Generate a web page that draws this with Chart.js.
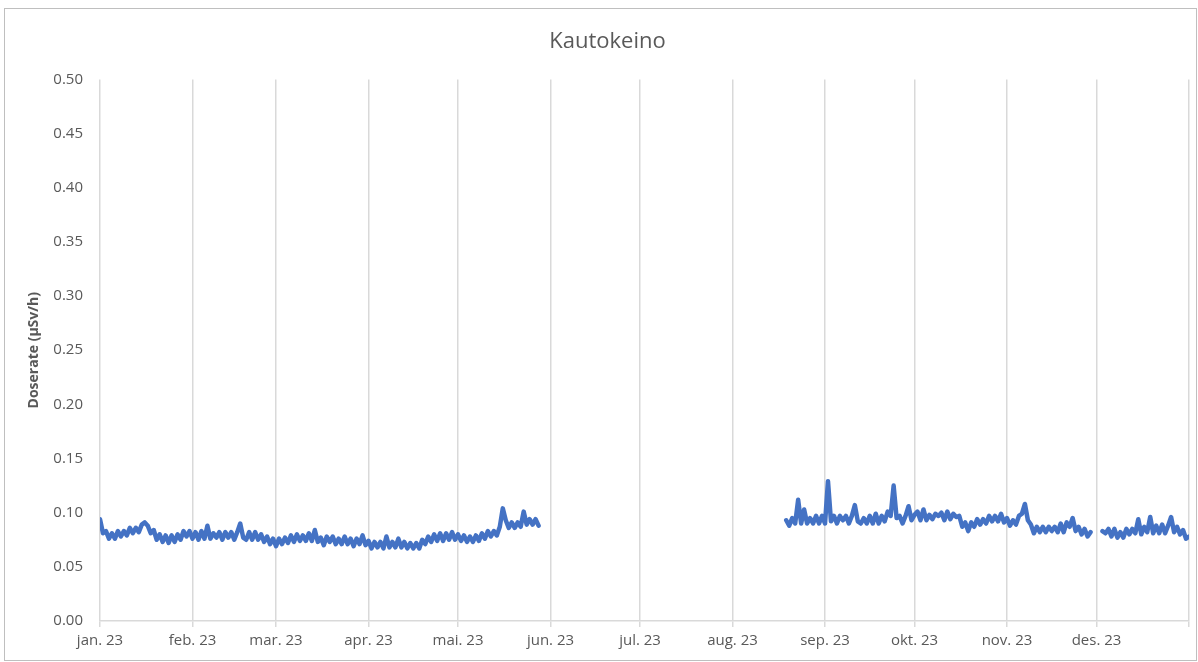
<!DOCTYPE html>
<html>
<head>
<meta charset="utf-8">
<script src="https://cdn.jsdelivr.net/npm/chart.js@4/dist/chart.umd.min.js"></script>
<style>
  html, body { margin: 0; padding: 0; background: #fff; }
  #wrap { position: relative; width: 1198px; height: 662px; }
  #frame { position: absolute; left: 4px; top: 8px; width: 1193px; height: 653px; border: 1px solid #bfbfbf; box-sizing: border-box; pointer-events: none; }
</style>
</head>
<body>
<div id="wrap">
  <canvas id="myChart"></canvas>
  <div id="frame"></div>
</div>
<script>
// month ticks (day of year 2023) and their labels
const monthStartDays = [0, 31, 59, 90, 120, 151, 181, 212, 243, 273, 304, 334, 365];
const monthLabels = ['jan. 23', 'feb. 23', 'mar. 23', 'apr. 23', 'mai. 23', 'jun. 23', 'jul. 23', 'aug. 23', 'sep. 23', 'okt. 23', 'nov. 23', 'des. 23', ''];
const yTicks = [0, 0.05, 0.10, 0.15, 0.20, 0.25, 0.30, 0.35, 0.40, 0.45, 0.50];

// daily doserate readings (µSv/h), three measuring periods
const janMayStart = 0;
const janMayValues = [
    0.094, 0.081, 0.083, 0.076, 0.081, 0.076, 0.083, 0.078, 0.083, 0.079,
    0.086, 0.081, 0.086, 0.082, 0.089, 0.091, 0.088, 0.081, 0.084, 0.075,
    0.080, 0.073, 0.079, 0.072, 0.079, 0.073, 0.080, 0.075, 0.083, 0.078,
    0.083, 0.076, 0.082, 0.075, 0.083, 0.076, 0.088, 0.076, 0.081, 0.077,
    0.082, 0.075, 0.082, 0.077, 0.082, 0.075, 0.082, 0.090, 0.077, 0.075,
    0.082, 0.075, 0.082, 0.075, 0.080, 0.073, 0.078, 0.071, 0.076, 0.069,
    0.076, 0.071, 0.077, 0.072, 0.079, 0.073, 0.080, 0.074, 0.079, 0.074,
    0.081, 0.074, 0.084, 0.073, 0.077, 0.070, 0.078, 0.073, 0.078, 0.071,
    0.076, 0.071, 0.078, 0.071, 0.076, 0.069, 0.076, 0.071, 0.079, 0.070,
    0.074, 0.067, 0.073, 0.068, 0.073, 0.067, 0.078, 0.068, 0.073, 0.068,
    0.076, 0.068, 0.073, 0.067, 0.072, 0.067, 0.072, 0.067, 0.075, 0.071,
    0.078, 0.073, 0.080, 0.074, 0.081, 0.074, 0.081, 0.075, 0.082, 0.075,
    0.080, 0.074, 0.079, 0.073, 0.078, 0.073, 0.079, 0.074, 0.081, 0.076,
    0.083, 0.078, 0.083, 0.079, 0.087, 0.104, 0.093, 0.086, 0.091, 0.086,
    0.091, 0.087, 0.101, 0.089, 0.094, 0.089, 0.094, 0.088
];
const augNovStart = 230;
const augNovValues = [
    0.093, 0.088, 0.095, 0.090, 0.112, 0.090, 0.103, 0.090, 0.095, 0.090,
    0.097, 0.090, 0.097, 0.090, 0.129, 0.092, 0.097, 0.090, 0.097, 0.093,
    0.097, 0.090, 0.097, 0.107, 0.092, 0.090, 0.095, 0.090, 0.097, 0.090,
    0.099, 0.090, 0.097, 0.092, 0.101, 0.097, 0.125, 0.095, 0.097, 0.090,
    0.097, 0.106, 0.093, 0.098, 0.101, 0.093, 0.103, 0.093, 0.098, 0.094,
    0.099, 0.097, 0.100, 0.093, 0.101, 0.094, 0.099, 0.096, 0.097, 0.087,
    0.091, 0.083, 0.091, 0.087, 0.094, 0.089, 0.094, 0.090, 0.097, 0.092,
    0.097, 0.092, 0.099, 0.091, 0.095, 0.088, 0.093, 0.089, 0.097, 0.099,
    0.108, 0.093, 0.089, 0.081, 0.087, 0.082, 0.087, 0.082, 0.087, 0.083,
    0.087, 0.082, 0.090, 0.082, 0.091, 0.087, 0.095, 0.083, 0.087, 0.080,
    0.085, 0.078, 0.082
];
const decStart = 336;
const decValues = [
    0.083, 0.081, 0.085, 0.078, 0.085, 0.077, 0.082, 0.077, 0.085, 0.080,
    0.085, 0.081, 0.094, 0.080, 0.087, 0.082, 0.096, 0.081, 0.088, 0.081,
    0.089, 0.081, 0.088, 0.096, 0.082, 0.087, 0.080, 0.084, 0.076, 0.078
];

function toPoints(start, values) {
    return values.map((v, i) => ({ x: start + i, y: v }));
}

const points = [
    ...toPoints(janMayStart, janMayValues),
    { x: janMayStart + janMayValues.length, y: null },
    ...toPoints(augNovStart, augNovValues),
    { x: augNovStart + augNovValues.length, y: null },
    ...toPoints(decStart, decValues)
];

const gridColor = '#d9d9d9';
const textColor = '#595959';
const font = 'Open Sans';

const ctx = document.getElementById('myChart').getContext('2d');
const myChart = new Chart(ctx, {
    type: 'line',
    data: {
        datasets: [{
            label: 'Kautokeino',
            data: points,
            borderColor: '#4472c4',
            borderWidth: 4.5,
            borderJoinStyle: 'round',
            borderCapStyle: 'round',
            pointRadius: 0,
            tension: 0,
            spanGaps: false
        }]
    },
    options: {
        responsive: true,
        maintainAspectRatio: false,
        animation: false,
        layout: { padding: { top: 8, right: 9, left: 26, bottom: 0 } },
        plugins: {
            legend: { display: false },
            tooltip: { enabled: false },
            title: {
                display: true,
                text: 'Kautokeino',
                color: textColor,
                font: { family: font, size: 22, weight: 'normal', lineHeight: 1.2 },
                padding: { top: 21, bottom: 24 }
            }
        },
        scales: {
            x: {
                type: 'linear',
                min: 0,
                max: 365,
                afterBuildTicks: (scale) => {
                    scale.ticks = monthStartDays.map(v => ({ value: v }));
                },
                afterFit: (scale) => { scale.height = 41; },
                ticks: {
                    autoSkip: false,
                    maxRotation: 0,
                    padding: 5,
                    color: textColor,
                    font: { family: font, size: 15 },
                    callback: (value) => monthLabels[monthStartDays.indexOf(value)]
                },
                grid: {
                    color: gridColor,
                    lineWidth: 1.5,
                    drawTicks: true,
                    tickLength: 6
                },
                border: { display: true, color: gridColor, width: 1.5 }
            },
            y: {
                min: 0,
                max: 0.5,
                afterBuildTicks: (scale) => {
                    scale.ticks = yTicks.map(v => ({ value: v }));
                },
                afterFit: (scale) => { scale.width = 74; },
                ticks: {
                    padding: 17,
                    color: textColor,
                    font: { family: font, size: 15 },
                    callback: (value) => value.toFixed(2)
                },
                grid: { display: false, drawTicks: false },
                border: { display: false },
                title: {
                    display: true,
                    text: 'Doserate (µSv/h)',
                    color: textColor,
                    font: { family: font, size: 14, weight: 'bold' },
                    padding: { top: 0, bottom: 0 }
                }
            }
        }
    }
});
</script>
</body>
</html>
